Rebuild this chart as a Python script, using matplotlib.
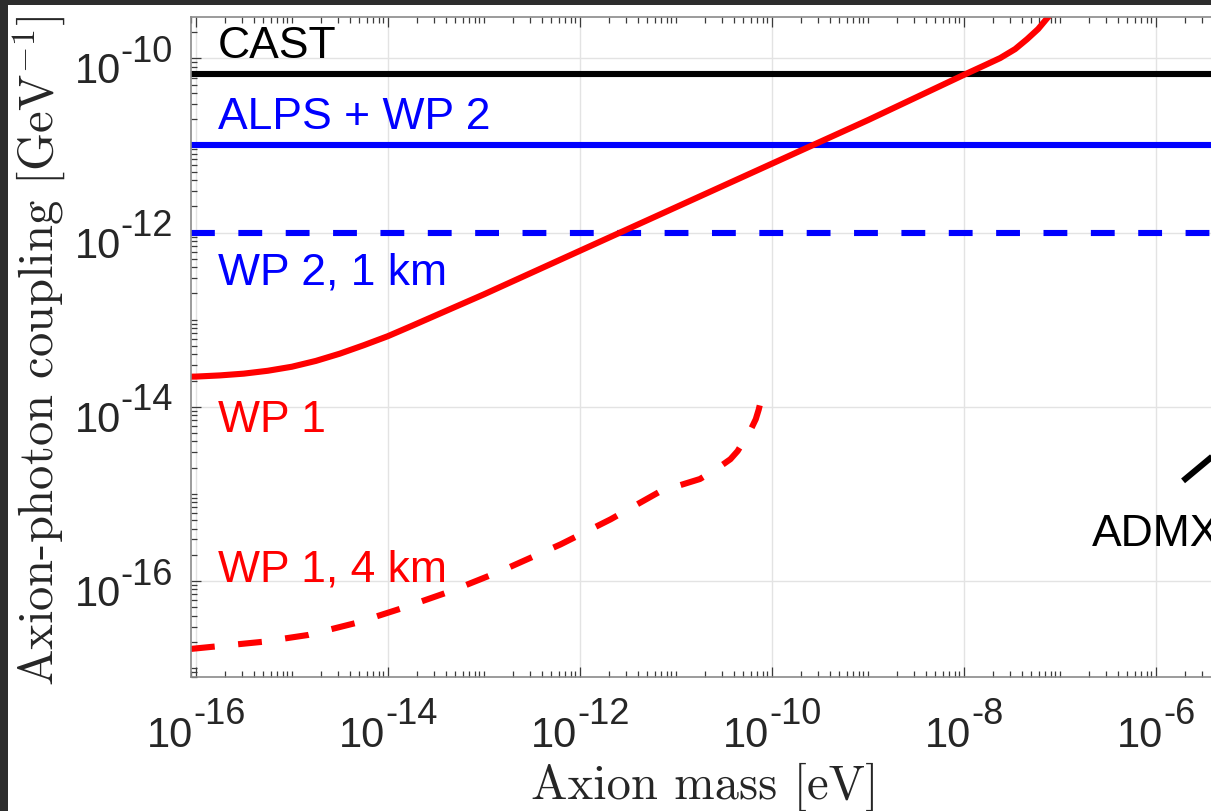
import numpy as np
import matplotlib
matplotlib.use('Agg')
import matplotlib.pyplot as plt
from matplotlib.patches import Rectangle
from matplotlib.ticker import FixedLocator, LogLocator, NullFormatter

plt.rcParams['font.family'] = 'Liberation Sans'

# ---- data ----
mass_range = [8.9e-17, 1e-3]
cast_g = 6.6e-11
alps_wp2_g = 1.0e-11
wp2_1km_g = 1.0e-12

wp1_mass = [1e-17, 1e-16, 1.78e-16, 3.16e-16, 5.62e-16, 1e-15, 1.78e-15,
            3.16e-15, 5.62e-15, 1e-14, 1.78e-14, 3.16e-14, 1e-13, 1e-12,
            1e-11, 1e-10, 1e-9, 1e-8, 1.667e-8, 2.39e-8, 3.42e-8, 4.56e-8,
            5.94e-8, 7.55e-8, 8.9e-8]
wp1_g = [2.14e-14, 2.22e-14, 2.29e-14, 2.40e-14, 2.59e-14, 2.88e-14, 3.36e-14,
         4.07e-14, 5.09e-14, 6.46e-14, 8.49e-14, 1.12e-13, 1.95e-13, 6.17e-13,
         1.95e-12, 6.17e-12, 1.95e-11, 6.46e-11, 8.37e-11, 1.007e-10,
         1.276e-10, 1.66e-10, 2.17e-10, 2.98e-10, 3.9e-10]

wp1_4km_mass = [8.9e-17, 4.9e-16, 1.48e-15, 4.68e-15, 1.35e-14, 4.47e-14,
                1.48e-13, 6.3e-13, 2.09e-12, 6.9e-12, 1.78e-11, 2.6e-11,
                3.7e-11, 4.4e-11, 5.0e-11, 5.9e-11, 6.8e-11, 7.3e-11, 7.8e-11]
wp1_4km_g = [1.66e-17, 2.0e-17, 2.4e-17, 3.3e-17, 4.8e-17, 7.6e-17, 1.29e-16,
             2.63e-16, 5.1e-16, 1.07e-15, 1.48e-15, 1.9e-15, 2.5e-15, 3.1e-15,
             3.9e-15, 5.2e-15, 7.2e-15, 9.3e-15, 1.26e-14]

admx_mass = [1.92e-6, 6.3e-6]
admx_g = [1.41e-15, 4.2e-15]

xticks = [1e-16, 1e-14, 1e-12, 1e-10, 1e-8, 1e-6, 1e-4]
xtick_exps = ['-16', '-14', '-12', '-10', '-8', '-6']
yticks = [1e-16, 1e-14, 1e-12, 1e-10]
ytick_exps = ['-16', '-14', '-12', '-10']

# ---- figure ----
W, H = 1211, 812
fig = plt.figure(figsize=(W / 100, H / 100), dpi=100)
fig.patch.set_facecolor('#2d2d2d')
fig.add_artist(Rectangle((8 / W, 0), 1, 1 - 6 / H, transform=fig.transFigure,
                         facecolor='white', edgecolor='none', zorder=-5))

x0 = 191 / W
y0 = 1 - 677.7 / H
y1 = 1 - 18.3 / H
xmin_exp = np.log10(mass_range[0])
width_px = (np.log10(mass_range[1]) - xmin_exp) * 96.0
ax = fig.add_axes([x0, y0, width_px / W, y1 - y0])

lw = 4.4
dash = (3.9, 3.85)
ax.plot(mass_range, [cast_g, cast_g], color='black', lw=lw, solid_capstyle='butt')
ax.plot(mass_range, [alps_wp2_g, alps_wp2_g], color='blue', lw=lw, solid_capstyle='butt')
ax.plot(mass_range, [wp2_1km_g, wp2_1km_g], color='blue', lw=lw,
        dashes=dash, dash_capstyle='butt')
ax.plot(wp1_mass, wp1_g, color='red', lw=lw, solid_capstyle='butt',
        solid_joinstyle='round')
ax.plot(wp1_4km_mass, wp1_4km_g, color='red', lw=lw,
        dashes=dash, dash_capstyle='butt', dash_joinstyle='round')
ax.plot(admx_mass, admx_g, color='black', lw=lw, solid_capstyle='butt')

ax.set_xscale('log')
ax.set_yscale('log')
ax.set_xlim(mass_range[0], mass_range[1])
ax.set_ylim(10 ** -17.099, 10 ** -9.529)

txt = dict(fontsize=32, ha='left', va='baseline')
ax.text(1.7e-16, 10 ** -9.985, 'CAST', color='black', **txt)
ax.text(1.7e-16, 10 ** -10.80, 'ALPS + WP 2', color='blue', **txt)
ax.text(1.7e-16, 10 ** -12.59, 'WP 2, 1 km', color='blue', **txt)
ax.text(1.7e-16, 10 ** -14.28, 'WP 1', color='red', **txt)
ax.text(1.7e-16, 10 ** -16.0, 'WP 1, 4 km', color='red', **txt)
ax.text(10 ** -6.67, 10 ** -15.59, 'ADMX', color='black', **txt)

for axis, ticks in ((ax.xaxis, xticks), (ax.yaxis, yticks)):
    axis.set_major_locator(FixedLocator(ticks))
    axis.set_minor_locator(LogLocator(base=10, subs=np.arange(1, 10), numticks=200))
    axis.set_minor_formatter(NullFormatter())

ax.tick_params(which='both', direction='in', top=True, right=True,
               color='#3a3a3a', width=0.9, labelbottom=False, labelleft=False)
ax.tick_params(which='major', length=7.5)
ax.tick_params(which='minor', length=4)
ax.grid(True, which='major', color='#e3e3e3', lw=1.0)
ax.set_axisbelow(True)
for s in ax.spines.values():
    s.set_color('#8a8a8a')
    s.set_linewidth(1.2)

# MATLAB style tick labels: "10" with a large superscript exponent
base_fs, sup_fs = 30, 26
base_w = 1.112 * base_fs
lab = dict(textcoords='offset points', annotation_clip=False,
           va='baseline', color='#262626')
for t, e in zip(xticks, xtick_exps):
    sup_w = (0.333 + 0.556 * (len(e) - 1)) * sup_fs
    left = -(base_w + sup_w) / 2
    ax.annotate('10', xy=(t, 0), xycoords=('data', 'axes fraction'),
                xytext=(left, -69 * 0.72), ha='left', fontsize=base_fs, **lab)
    ax.annotate(e, xy=(t, 0), xycoords=('data', 'axes fraction'),
                xytext=(left + base_w, -46 * 0.72), ha='left', fontsize=sup_fs, **lab)
for t, e in zip(yticks, ytick_exps):
    sup_w = (0.333 + 0.556 * (len(e) - 1)) * sup_fs
    right = -18 * 0.72
    ax.annotate(e, xy=(0, t), xycoords=('axes fraction', 'data'),
                xytext=(right, -2.7 * 0.72), ha='right', fontsize=sup_fs, **lab)
    ax.annotate('10', xy=(0, t), xycoords=('axes fraction', 'data'),
                xytext=(right - sup_w, -24 * 0.72), ha='right', fontsize=base_fs, **lab)

fig.text(705 / W, 1 - 787 / H, 'Axion mass [eV]', fontsize=35,
         family='cmr10', ha='center', va='center', color='#262626')
fig.text(39 / W, 1 - 351 / H, 'Axion-photon coupling [GeV$^{-1}$]', fontsize=35,
         family='cmr10', math_fontfamily='cm', rotation=90,
         ha='center', va='center', color='#262626')

fig.savefig('out.png', dpi=100, facecolor=fig.get_facecolor())
